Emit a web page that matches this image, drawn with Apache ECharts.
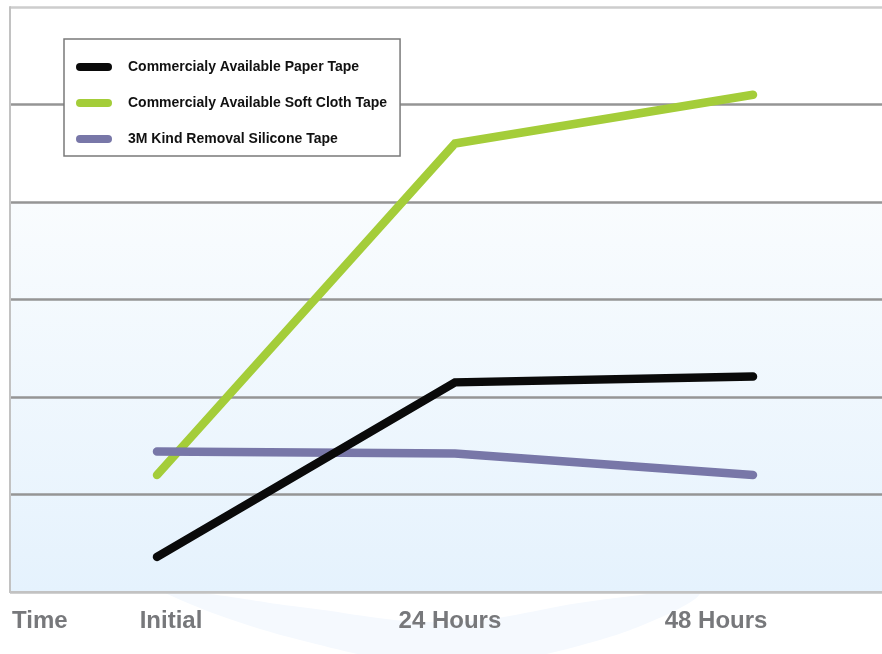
<!DOCTYPE html>
<html>
<head>
<meta charset="utf-8">
<script src="https://cdn.jsdelivr.net/npm/echarts@6/dist/echarts.min.js"></script>
<style>
  html, body { margin: 0; padding: 0; background: #ffffff; }
  #chart { width: 882px; height: 654px; }
</style>
</head>
<body>
<div id="chart"></div>
<script>
// Time points and tape adhesion readings
const categories = ['Initial', '24 Hours', '48 Hours'];
const tickLabels = ['Time', 'Initial', '24 Hours', '48 Hours'];
const paperTape = [0.36, 2.15, 2.21];
const clothTape = [1.2, 4.6, 5.1];
const siliconeTape = [1.44, 1.42, 1.2];

const seriesNames = [
  'Commercialy Available Paper Tape',
  'Commercialy Available Soft Cloth Tape',
  '3M Kind Removal Silicone Tape'
];

// x positions (in category units) where the bottom labels sit
const labelSlots = [-0.393, 0.047, 0.983, 1.876];
const X_MIN = -0.4933, X_MAX = 2.4329;

const font = '"Liberation Sans", Arial, sans-serif';
const pts = arr => categories.map((c, i) => [i, arr[i]]);
const capsule = 'path://M4,0 H32 A4,4 0 0 1 32,8 H4 A4,4 0 0 1 4,0 Z';

const chart = echarts.init(document.getElementById('chart'), null, { renderer: 'canvas' });

const lineSeries = (name, data, color, z) => ({
  name, type: 'line', data: pts(data), showSymbol: false, symbol: 'none',
  z,
  lineStyle: { color, width: 8.5, cap: 'round', join: 'miter' },
  itemStyle: { color },
  emphasis: { disabled: true }
});

chart.setOption({
  animation: false,
  backgroundColor: '#ffffff',
  grid: {
    left: 10, right: 0, top: 7, bottom: 62, containLabel: false,
    show: true, borderWidth: 0,
    // white upper band, pale blue wash below the 4th gridline
    backgroundColor: new echarts.graphic.LinearGradient(0, 0, 0, 1, [
      { offset: 0, color: '#ffffff' },
      { offset: 0.333, color: '#ffffff' },
      { offset: 0.334, color: '#f9fcfe' },
      { offset: 1, color: '#e5f2fd' }
    ])
  },
  graphic: [{
    type: 'polygon', z: -10, silent: true,
    shape: {
      smooth: 0.4,
      points: [[165, 593], [300, 640], [450, 664], [600, 640], [700, 593],
               [600, 600], [450, 622], [300, 607], [200, 593]]
    },
    style: { fill: '#f5f9fe' }
  }],
  legend: {
    data: seriesNames,
    orient: 'vertical',
    left: 64, top: 39,
    padding: [21, 13, 10, 12],
    itemGap: 22,
    itemWidth: 36, itemHeight: 9,
    icon: capsule,
    backgroundColor: '#ffffff',
    borderColor: '#7a7a7a', borderWidth: 1.5, borderRadius: 0,
    selectedMode: false,
    textStyle: {
      fontFamily: font, fontWeight: 'bold', fontSize: 14, color: '#111111',
      lineHeight: 14, padding: [0, 0, 0, 11]
    }
  },
  xAxis: [{
    type: 'value', min: X_MIN, max: X_MAX,
    axisLine: { show: true, lineStyle: { color: '#c2c2c2', width: 2 } },
    axisTick: { show: false },
    splitLine: { show: false },
    axisLabel: {
      customValues: labelSlots,
      formatter: v => {
        const k = labelSlots.findIndex(s => Math.abs(s - v) < 1e-6);
        return k >= 0 ? tickLabels[k] : '';
      },
      fontFamily: font, fontWeight: 'bold', fontSize: 24, color: '#77787b',
      margin: 17
    }
  }],
  yAxis: [{
    type: 'value', min: 0, max: 6, interval: 1,
    axisLine: { show: true, onZero: false, lineStyle: { color: '#c2c2c2', width: 2 } },
    axisTick: { show: false },
    axisLabel: { show: false },
    splitLine: {
      show: true,
      lineStyle: {
        color: ['#c2c2c2', '#959595', '#959595', '#959595', '#959595', '#959595', '#cdcdcd'],
        width: 2.5
      }
    }
  }],
  series: [
    lineSeries(seriesNames[1], clothTape, '#a4cd39', 2),
    lineSeries(seriesNames[2], siliconeTape, '#7877a8', 3),
    lineSeries(seriesNames[0], paperTape, '#0a0a0a', 4)
  ]
});
</script>
</body>
</html>
